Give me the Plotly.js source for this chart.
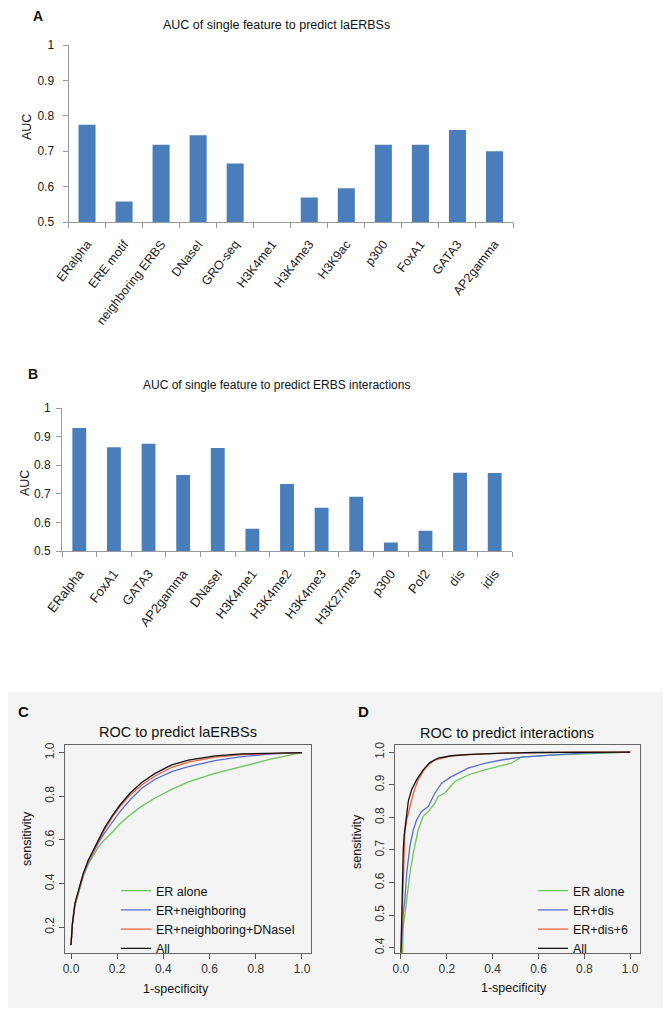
<!DOCTYPE html>
<html>
<head>
<meta charset="utf-8">
<script src="https://cdn.plot.ly/plotly-3.0.1.min.js"></script>
<style>
  html, body { margin: 0; padding: 0; background: #ffffff; }
  #chart { width: 667px; height: 1014px; }
</style>
</head>
<body>
<div id="chart"></div>
<script>
// ---------------- Data ----------------
const catsA = ['ERalpha', 'ERE motif', 'neighboring ERBS', 'DNaseI', 'GRO-seq', 'H3K4me1', 'H3K4me3', 'H3K9ac', 'p300', 'FoxA1', 'GATA3', 'AP2gamma'];
const aucA = [0.775, 0.558, 0.718, 0.745, 0.665, 0.5, 0.569, 0.595, 0.718, 0.718, 0.76, 0.70];

const catsB = ['ERalpha', 'FoxA1', 'GATA3', 'AP2gamma', 'DNaseI', 'H3K4me1', 'H3K4me2', 'H3K4me3', 'H3K27me3', 'p300', 'Pol2', 'dis', 'idis'];
const aucB = [0.93, 0.863, 0.875, 0.766, 0.86, 0.578, 0.734, 0.651, 0.69, 0.53, 0.571, 0.774, 0.773];

const aucTickVals = [0.5, 0.6, 0.7, 0.8, 0.9, 1];
const aucTickText = ['0.5', '0.6', '0.7', '0.8', '0.9', '1'];

const rocTickVals = [0, 0.2, 0.4, 0.6, 0.8, 1.0];
const rocTickText = ['0.0', '0.2', '0.4', '0.6', '0.8', '1.0'];
const rocYTickValsC = [0.2, 0.4, 0.6, 0.8, 1.0];
const rocYTickTextC = ['0.2', '0.4', '0.6', '0.8', '1.0'];
const rocYTickValsD = [0.4, 0.5, 0.6, 0.7, 0.8, 0.9, 1.0];
const rocYTickTextD = ['0.4', '0.5', '0.6', '0.7', '0.8', '0.9', '1.0'];

const legendNamesC = ['ER alone', 'ER+neighboring', 'ER+neighboring+DNaseI', 'All'];
const legendNamesD = ['ER alone', 'ER+dis', 'ER+dis+6', 'All'];

// Panel C ROC curves
const fprC = [0, 0.003, 0.006, 0.017, 0.035, 0.053, 0.075, 0.097, 0.118, 0.144, 0.176, 0.212, 0.255, 0.306, 0.364, 0.436, 0.508, 0.623, 0.739, 0.869, 1];
const tprC_er = [0.119, 0.165, 0.21, 0.3, 0.372, 0.432, 0.49, 0.53, 0.566, 0.6, 0.632, 0.674, 0.714, 0.755, 0.792, 0.832, 0.866, 0.905, 0.936, 0.971, 1];
const tprC_nb = [0.119, 0.165, 0.21, 0.3, 0.375, 0.437, 0.497, 0.542, 0.585, 0.63, 0.676, 0.73, 0.783, 0.837, 0.878, 0.913, 0.936, 0.963, 0.982, 0.994, 1];
const tprC_dn = [0.119, 0.168, 0.214, 0.304, 0.378, 0.441, 0.502, 0.55, 0.595, 0.645, 0.7, 0.753, 0.805, 0.852, 0.893, 0.933, 0.957, 0.979, 0.991, 0.997, 1];
const tprC_all = [0.119, 0.17, 0.218, 0.31, 0.38, 0.447, 0.508, 0.554, 0.6, 0.653, 0.707, 0.76, 0.814, 0.863, 0.905, 0.944, 0.966, 0.985, 0.994, 0.998, 1];

// Panel D ROC curves
const fprD_er = [0.007, 0.01, 0.025, 0.039, 0.054, 0.075, 0.097, 0.119, 0.148, 0.162, 0.191, 0.235, 0.293, 0.365, 0.452, 0.481, 0.525, 0.655, 0.8, 1];
const tprD_er = [0.383, 0.465, 0.547, 0.629, 0.69, 0.762, 0.803, 0.818, 0.844, 0.864, 0.874, 0.91, 0.93, 0.946, 0.961, 0.966, 0.985, 0.991, 0.995, 1];
const fprD_dis = [0.003, 0.01, 0.017, 0.025, 0.039, 0.054, 0.068, 0.09, 0.119, 0.148, 0.177, 0.22, 0.293, 0.365, 0.438, 0.525, 0.655, 0.8, 1];
const tprD_dis = [0.41, 0.506, 0.547, 0.629, 0.711, 0.762, 0.792, 0.818, 0.833, 0.874, 0.905, 0.925, 0.951, 0.966, 0.976, 0.985, 0.991, 0.997, 1];
const fprD_six = [0, 0.003, 0.006, 0.01, 0.017, 0.025, 0.039, 0.054, 0.075, 0.097, 0.119, 0.148, 0.22, 0.3, 0.365, 0.45, 0.583, 0.75, 1];
const tprD_six = [0.385, 0.45, 0.527, 0.629, 0.752, 0.792, 0.833, 0.874, 0.915, 0.941, 0.961, 0.976, 0.989, 0.993, 0.995, 0.997, 0.999, 1, 1];
const fprD_all = [0, 0.003, 0.006, 0.01, 0.014, 0.02, 0.032, 0.046, 0.068, 0.097, 0.126, 0.162, 0.22, 0.3, 0.365, 0.45, 0.583, 0.75, 1];
const tprD_all = [0.385, 0.5, 0.62, 0.7, 0.745, 0.785, 0.849, 0.884, 0.915, 0.946, 0.968, 0.982, 0.989, 0.993, 0.995, 0.997, 0.999, 1, 1];

// ---------------- Layout helpers ----------------
const W = 667, H = 1014;
const px = x => x / W;
const py = y => 1 - y / H;
const FONT = 'Liberation Sans, Arial, Helvetica, sans-serif';
const barColor = '#4a7ebb';
const colGreen = '#6cc55a', colBlue = '#5a6cd4', colRed = '#f2603f', colBlack = '#111111';

const traces = [
  { type: 'bar', x: catsA, y: aucA, xaxis: 'x', yaxis: 'y', marker: { color: barColor }, width: 0.46, showlegend: false, hoverinfo: 'x+y' },
  { type: 'bar', x: catsB, y: aucB, xaxis: 'x2', yaxis: 'y2', marker: { color: barColor }, width: 0.40, showlegend: false, hoverinfo: 'x+y' },

  { type: 'scatter', mode: 'lines', x: fprC, y: tprC_er, xaxis: 'x3', yaxis: 'y3', name: legendNamesC[0], line: { color: colGreen, width: 1.3 }, legend: 'legend' },
  { type: 'scatter', mode: 'lines', x: fprC, y: tprC_nb, xaxis: 'x3', yaxis: 'y3', name: legendNamesC[1], line: { color: colBlue, width: 1.3 }, legend: 'legend' },
  { type: 'scatter', mode: 'lines', x: fprC, y: tprC_dn, xaxis: 'x3', yaxis: 'y3', name: legendNamesC[2], line: { color: colRed, width: 1.3 }, legend: 'legend' },
  { type: 'scatter', mode: 'lines', x: fprC, y: tprC_all, xaxis: 'x3', yaxis: 'y3', name: legendNamesC[3], line: { color: colBlack, width: 1.3 }, legend: 'legend' },

  { type: 'scatter', mode: 'lines', x: fprD_er, y: tprD_er, xaxis: 'x4', yaxis: 'y4', name: legendNamesD[0], line: { color: colGreen, width: 1.3 }, legend: 'legend2' },
  { type: 'scatter', mode: 'lines', x: fprD_dis, y: tprD_dis, xaxis: 'x4', yaxis: 'y4', name: legendNamesD[1], line: { color: colBlue, width: 1.3 }, legend: 'legend2' },
  { type: 'scatter', mode: 'lines', x: fprD_six, y: tprD_six, xaxis: 'x4', yaxis: 'y4', name: legendNamesD[2], line: { color: colRed, width: 1.3 }, legend: 'legend2' },
  { type: 'scatter', mode: 'lines', x: fprD_all, y: tprD_all, xaxis: 'x4', yaxis: 'y4', name: legendNamesD[3], line: { color: colBlack, width: 1.3 }, legend: 'legend2' }
];

const barX = (dom, n, size) => ({
  domain: dom, type: 'category', range: [-0.5, n - 0.5],
  tickson: 'boundaries', ticks: 'outside', ticklen: 5, tickcolor: '#9a9a9a', tickwidth: 1,
  showline: true, linecolor: '#9a9a9a', linewidth: 1,
  showgrid: false, zeroline: false, tickangle: -52, ticklabelstandoff: 9,
  tickfont: { family: FONT, size: size, color: '#222' }, fixedrange: true
});
const barY = (dom, standoff) => ({
  domain: dom, range: [0.5, 1], tickvals: aucTickVals, ticktext: aucTickText,
  ticks: 'outside', ticklen: 5, tickcolor: '#9a9a9a', tickwidth: 1,
  showline: true, linecolor: '#9a9a9a', linewidth: 1,
  showgrid: false, zeroline: false, ticklabelstandoff: standoff,
  tickfont: { family: FONT, size: 12, color: '#222' }, fixedrange: true
});
const rocAxis = (dom, range, vals, text, angle) => ({
  domain: dom, range: range, tickvals: vals, ticktext: text,
  ticks: 'outside', ticklen: 5, tickcolor: '#555', tickwidth: 1,
  showline: true, mirror: true, linecolor: '#666', linewidth: 1,
  showgrid: false, zeroline: false, tickangle: angle,
  tickfont: { family: FONT, size: 12, color: '#333' }, fixedrange: true
});

const ann = (text, x, y, size, opts) => Object.assign({
  text: text, xref: 'paper', yref: 'paper', x: px(x), y: py(y),
  xanchor: 'center', yanchor: 'middle', showarrow: false,
  font: { family: FONT, size: size, color: '#111' }
}, opts || {});

const layout = {
  width: W, height: H,
  margin: { l: 0, r: 0, t: 0, b: 0 },
  paper_bgcolor: '#ffffff', plot_bgcolor: 'rgba(0,0,0,0)',
  showlegend: true,
  xaxis: Object.assign(barX([px(68.5), px(513)], catsA.length, 12.5), { anchor: 'y' }),
  yaxis: Object.assign(barY([py(222), py(45)], 6), { anchor: 'x' }),
  xaxis2: Object.assign(barX([px(62), px(512)], catsB.length, 13), { anchor: 'y2' }),
  yaxis2: Object.assign(barY([py(551), py(408)], 3), { anchor: 'x2' }),
  xaxis3: Object.assign(rocAxis([px(65), px(311)], [-0.026, 1.039], rocTickVals, rocTickText, 0), { anchor: 'y3' }),
  yaxis3: Object.assign(rocAxis([py(953), py(745)], [0.082, 1.035], rocYTickValsC, rocYTickTextC, -90), { anchor: 'x3' }),
  xaxis4: Object.assign(rocAxis([px(395), px(640)], [-0.026, 1.043], rocTickVals, rocTickText, 0), { anchor: 'y4' }),
  yaxis4: Object.assign(rocAxis([py(953), py(745)], [0.384, 1.022], rocYTickValsD, rocYTickTextD, -90), { anchor: 'x4' }),
  legend: {
    x: px(116), y: py(876), xanchor: 'left', yanchor: 'top',
    bgcolor: 'rgba(0,0,0,0)', borderwidth: 0, tracegroupgap: 0,
    font: { family: FONT, size: 12.5, color: '#111' }
  },
  legend2: {
    x: px(533), y: py(876), xanchor: 'left', yanchor: 'top',
    bgcolor: 'rgba(0,0,0,0)', borderwidth: 0, tracegroupgap: 0,
    font: { family: FONT, size: 12.5, color: '#111' }
  },
  shapes: [
    { type: 'rect', xref: 'paper', yref: 'paper', x0: px(8), x1: px(663), y0: py(1008), y1: py(692),
      fillcolor: '#f4f4f4', line: { width: 0 }, layer: 'below' }
  ],
  annotations: [
    ann('<b>A</b>', 38, 16, 14),
    ann('AUC of single feature to predict laERBSs', 276.5, 25, 12.5),
    ann('AUC', 27, 127, 12.5, { textangle: -90 }),
    ann('<b>B</b>', 33, 374, 14),
    ann('AUC of single feature to predict ERBS interactions', 276, 385, 12),
    ann('AUC', 25, 483, 12.5, { textangle: -90 }),
    ann('<b>C</b>', 24, 711, 15),
    ann('ROC to predict laERBSs', 178.5, 732, 14.5),
    ann('sensitivity', 27, 838, 12.5, { textangle: -90 }),
    ann('1-specificity', 176, 989, 12.5),
    ann('<b>D</b>', 364, 711, 15),
    ann('ROC to predict interactions', 507, 733, 14.5),
    ann('sensitivity', 357, 841, 12.5, { textangle: -90 }),
    ann('1-specificity', 514, 988, 12.5)
  ]
};

Plotly.newPlot('chart', traces, layout, { displayModeBar: false, staticPlot: true });
</script>
</body>
</html>
